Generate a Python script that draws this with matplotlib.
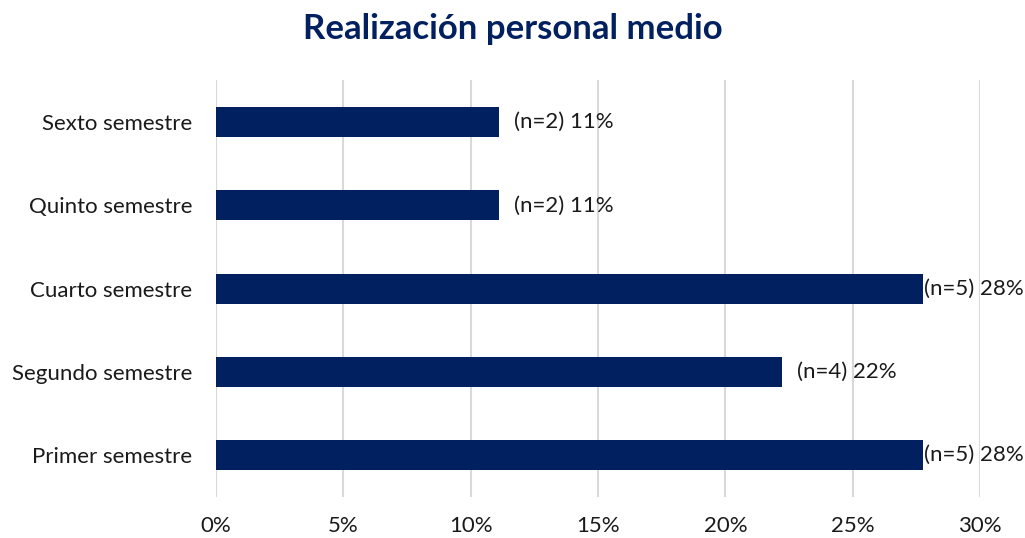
import matplotlib

matplotlib.use("Agg")
import matplotlib.pyplot as plt
from matplotlib.ticker import FuncFormatter, MultipleLocator

plt.rcParams["font.family"] = ["Lato", "DejaVu Sans"]

# datos (de abajo hacia arriba)
categories = ["Primer semestre", "Segundo semestre", "Cuarto semestre",
              "Quinto semestre", "Sexto semestre"]
counts = [5, 4, 5, 2, 2]
total = 18
labels = ["(n=5) 28%", "(n=4) 22%", "(n=5) 28%", "(n=2) 11%", "(n=2) 11%"]

NAVY = "#002060"
GRID = "#D9D9D9"
TXT = "#1a1a1a"

pct = [c / total * 100 for c in counts]

fig = plt.figure(figsize=(10.25, 5.38), dpi=100)
ax = fig.add_axes([0.2107, 0.0762, 0.7454, 0.7742])

y = range(len(categories))
ax.barh(y, pct, height=0.36, color=NAVY, zorder=3)

xmax = 30
for yi, v, lab in zip(y, pct, labels):
    # Excel mueve la etiqueta hacia dentro si se sale del área
    off = 11 if v < 25 else 0.5
    ax.annotate(lab, xy=(v, yi), xytext=(off, 0), textcoords="offset points",
                va="center", ha="left", fontsize=16, color=TXT)

ax.set_xlim(0, xmax)
ax.set_ylim(-0.5, len(categories) - 0.5)
ax.xaxis.set_major_locator(MultipleLocator(5))
ax.xaxis.set_major_formatter(FuncFormatter(lambda v, _: f"{v:.0f}%"))
ax.set_yticks(list(y))
ax.set_yticklabels(categories)
ax.tick_params(axis="both", length=0, labelsize=16, colors=TXT)
ax.tick_params(axis="x", pad=14)
ax.tick_params(axis="y", pad=17)
ax.grid(axis="x", color=GRID, lw=1.5, zorder=0)
for s in ax.spines.values():
    s.set_visible(False)

fig.suptitle("Realización personal medio", fontsize=25, fontweight="bold",
             color=NAVY, y=0.975)

fig.savefig("out.png", dpi=100, facecolor="white")
